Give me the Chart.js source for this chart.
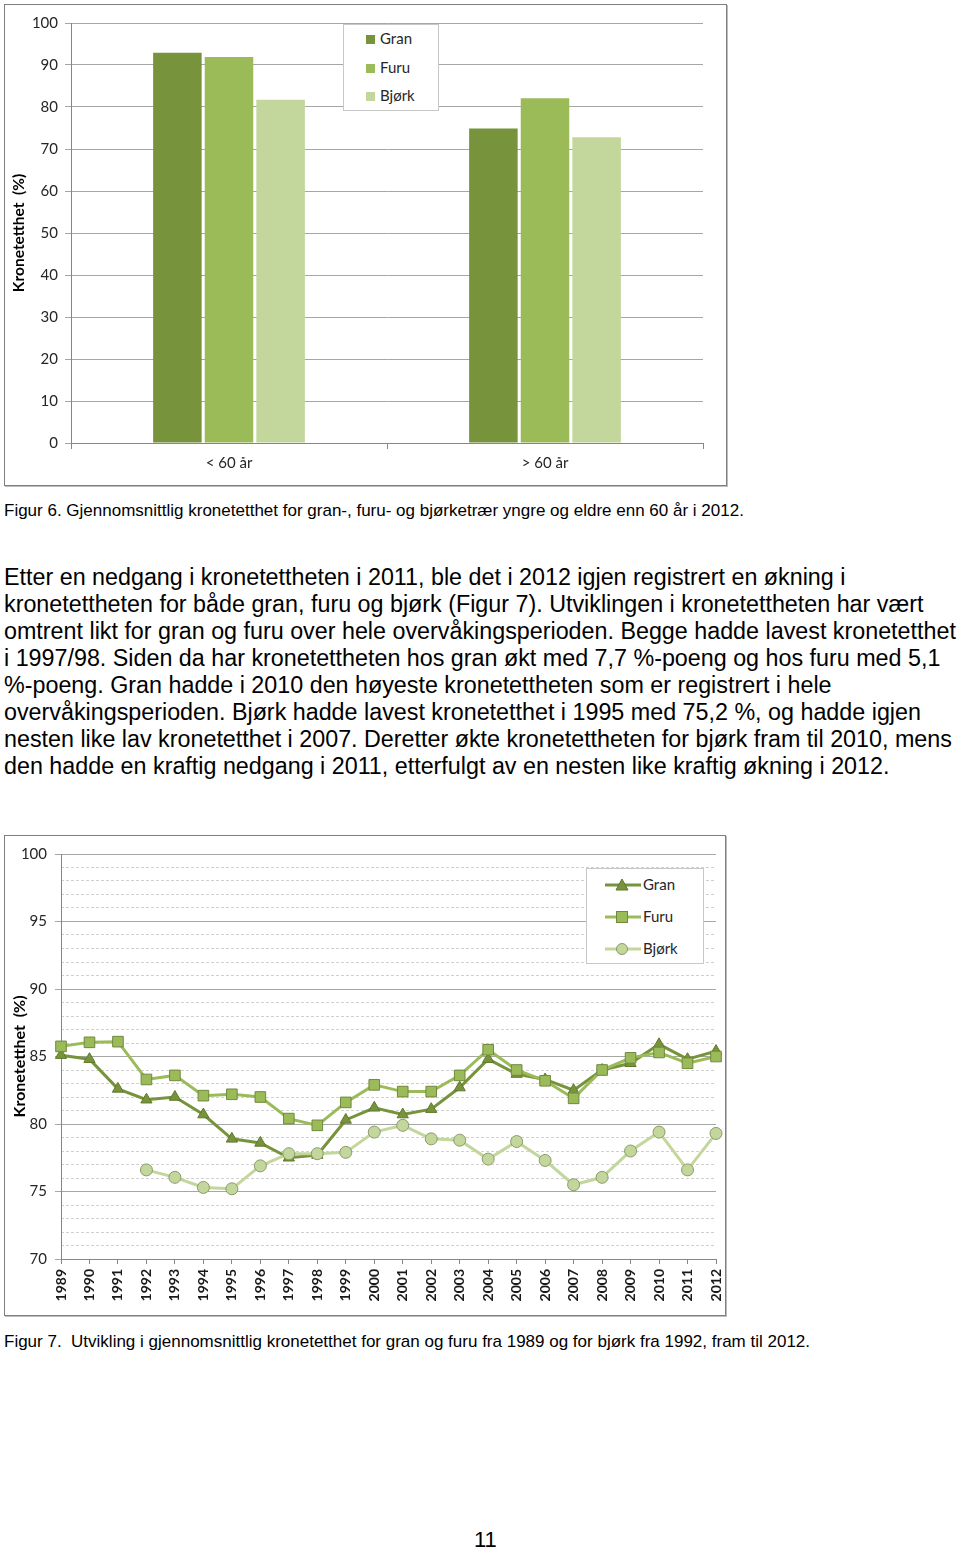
<!DOCTYPE html>
<html>
<head>
<meta charset="utf-8">
<script src="https://cdn.jsdelivr.net/npm/chart.js@4.4.1/dist/chart.umd.min.js"></script>
<style>
  html,body{margin:0;padding:0;background:#fff;}
  body{width:960px;height:1552px;position:relative;overflow:hidden;font-family:"Liberation Sans",Arial,sans-serif;color:#000;}
  .frame{position:absolute;border:1px solid #7f7f7f;box-shadow:1px 1px 0 #bdbdbd;background:#fff;}
  canvas{position:absolute;}
  .legend{position:absolute;border:1px solid #c8c8c8;background:#fff;font-family:Lato,"Open Sans",sans-serif;font-size:15px;color:#262626;}
  .li{position:absolute;left:0;height:20px;line-height:20px;white-space:nowrap;}
  .txt{position:absolute;left:4px;white-space:nowrap;}
  .para{font-size:23.3px;}
  .cap{font-size:17px;}
</style>
</head>
<body>
<script>
// ---------- DATA ----------
const barCategories = ["< 60 år", "> 60 år"];
const barGran = [92.9, 74.9];
const barFuru = [91.9, 82.1];
const barBjork = [81.7, 72.8];

const years = ["1989","1990","1991","1992","1993","1994","1995","1996","1997","1998","1999","2000",
               "2001","2002","2003","2004","2005","2006","2007","2008","2009","2010","2011","2012"];
const lineGran = [85.1, 84.8, 82.6, 81.8, 82.0, 80.7, 78.9, 78.6, 77.5, 77.7, 80.3, 81.2,
                  80.7, 81.1, 82.7, 84.8, 83.7, 83.3, 82.5, 84.0, 84.5, 85.9, 84.8, 85.4];
const lineFuru = [85.75, 86.05, 86.1, 83.3, 83.6, 82.1, 82.2, 82.0, 80.4, 79.9, 81.6, 82.9,
                  82.4, 82.4, 83.6, 85.5, 84.0, 83.2, 81.9, 84.0, 84.9, 85.3, 84.5, 85.0];
const lineBjork = [null, null, null, 76.6, 76.05, 75.3, 75.2, 76.9, 77.8, 77.8, 77.9, 79.4,
                   79.9, 78.9, 78.8, 77.4, 78.7, 77.3, 75.5, 76.05, 78.0, 79.4, 76.6, 79.3];

const barTicks = [0, 10, 20, 30, 40, 50, 60, 70, 80, 90, 100];
const lineTickLabels = [70, 75, 80, 85, 90, 95, 100];

const seriesNames = ["Gran", "Furu", "Bjørk"];
const COL = {gran:"#77933C", furu:"#9BBB59", bjork:"#C3D69B"};
</script>

<div class="frame" style="left:4px;top:4px;width:721px;height:480px;"></div>
<canvas id="c1" width="721" height="480" style="left:5px;top:5px;width:721px;height:480px;"></canvas>
<div class="legend" id="lg1" style="left:343px;top:24px;width:94px;height:85px;"></div>

<div class="txt cap" style="top:501px;">Figur 6. Gjennomsnittlig kronetetthet for gran-, furu- og bjørketrær yngre og eldre enn 60 år i 2012.</div>

<div class="txt para" style="top:564px;">Etter en nedgang i kronetettheten i 2011, ble det i 2012 igjen registrert en økning i</div>
<div class="txt para" style="top:591px;">kronetettheten for både gran, furu og bjørk (Figur 7). Utviklingen i kronetettheten har vært</div>
<div class="txt para" style="top:618px;">omtrent likt for gran og furu over hele overvåkingsperioden. Begge hadde lavest kronetetthet</div>
<div class="txt para" style="top:645px;">i 1997/98. Siden da har kronetettheten hos gran økt med 7,7 %-poeng og hos furu med 5,1</div>
<div class="txt para" style="top:672px;">%-poeng. Gran hadde i 2010 den høyeste kronetettheten som er registrert i hele</div>
<div class="txt para" style="top:699px;">overvåkingsperioden. Bjørk hadde lavest kronetetthet i 1995 med 75,2 %, og hadde igjen</div>
<div class="txt para" style="top:726px;">nesten like lav kronetetthet i 2007. Deretter økte kronetettheten for bjørk fram til 2010, mens</div>
<div class="txt para" style="top:753px;">den hadde en kraftig nedgang i 2011, etterfulgt av en nesten like kraftig økning i 2012.</div>

<div class="frame" style="left:4px;top:835px;width:720px;height:479px;"></div>
<canvas id="c2" width="720" height="479" style="left:5px;top:836px;width:720px;height:479px;"></canvas>
<div class="legend" id="lg2" style="left:586px;top:868px;width:116px;height:94px;"></div>

<div class="txt cap" style="top:1332px;">Figur 7.&nbsp; Utvikling i gjennomsnittlig kronetetthet for gran og furu fra 1989 og for bjørk fra 1992, fram til 2012.</div>

<div class="txt" style="left:474px;top:1527px;font-size:22px;">11</div>

<script>
const FONT = "Lato, 'Open Sans', sans-serif";

// legend 1 (bar)
(function(){
  const lg = document.getElementById('lg1');
  const cols = [COL.gran, COL.furu, COL.bjork];
  const ys = [3, 32, 60];
  seriesNames.forEach((n,i)=>{
    const d = document.createElement('div');
    d.className='li';
    d.style.top = ys[i]+'px';
    d.style.left = '22px';
    d.innerHTML = '<span style="display:inline-block;width:9px;height:9px;background:'+cols[i]+';margin-right:5px;vertical-align:0px;"></span>'+n;
    lg.appendChild(d);
  });
})();

// legend 2 (line)
(function(){
  const lg = document.getElementById('lg2');
  const ys = [5, 37, 69];
  const svgs = [
    '<svg width="38" height="14" style="vertical-align:-2px"><line x1="0" y1="7" x2="36" y2="7" stroke="'+COL.gran+'" stroke-width="3"/><polygon points="17,1 23,12 11,12" fill="'+COL.gran+'" stroke="#5f7a2c" stroke-width="1"/></svg>',
    '<svg width="38" height="14" style="vertical-align:-2px"><line x1="0" y1="7" x2="36" y2="7" stroke="'+COL.furu+'" stroke-width="3"/><rect x="11.5" y="1.5" width="11" height="11" fill="'+COL.furu+'" stroke="#71893F" stroke-width="1"/></svg>',
    '<svg width="38" height="14" style="vertical-align:-2px"><line x1="0" y1="7" x2="36" y2="7" stroke="'+COL.bjork+'" stroke-width="3"/><circle cx="17" cy="7" r="5.5" fill="'+COL.bjork+'" stroke="#8b9a6c" stroke-width="1"/></svg>'
  ];
  seriesNames.forEach((n,i)=>{
    const d = document.createElement('div');
    d.className='li';
    d.style.top = ys[i]+'px';
    d.style.left = '18px';
    d.innerHTML = svgs[i]+n;
    lg.appendChild(d);
  });
})();

Chart.defaults.font.family = FONT;
Chart.defaults.animation = false;

// ---------- Chart 1: bars ----------
new Chart(document.getElementById('c1'), {
  type: 'bar',
  data: {
    labels: barCategories,
    datasets: [
      {label: seriesNames[0], data: barGran, backgroundColor: COL.gran},
      {label: seriesNames[1], data: barFuru, backgroundColor: COL.furu},
      {label: seriesNames[2], data: barBjork, backgroundColor: COL.bjork}
    ]
  },
  options: {
    responsive: false,
    devicePixelRatio: 1,
    layout: {padding: {left: 0, right: 23, top: 18, bottom: 0}},
    categoryPercentage: 0.49,
    barPercentage: 0.94,
    plugins: {legend: {display: false}, tooltip: {enabled: false}},
    scales: {
      x: {
        grid: {display: true, drawOnChartArea: false, drawTicks: true, tickLength: 6, color: '#868686', offset: true},
        border: {display: true, color: '#868686'},
        ticks: {color: '#262626', font: {size: 15}, padding: 5},
        afterFit: s => { s.height = 42; }
      },
      y: {
        min: 0, max: 100,
        afterBuildTicks: s => { s.ticks = barTicks.map(v => ({value: v})); },
        grid: {color: '#a6a6a6', tickLength: 6, drawTicks: true},
        border: {display: true, color: '#868686'},
        ticks: {color: '#262626', font: {size: 15}, padding: 7},
        title: {display: true, text: 'Kronetetthet  (%)', color: '#000', font: {size: 15.5, weight: 'bold'}, padding: {top: 5, bottom: 0}},
        afterFit: s => { s.width = 66; }
      }
    }
  }
});

// ---------- Chart 2: lines ----------
new Chart(document.getElementById('c2'), {
  type: 'line',
  data: {
    labels: years,
    datasets: [
      {label: seriesNames[0], data: lineGran, borderColor: COL.gran, backgroundColor: COL.gran,
       pointStyle: 'triangle', pointRadius: 6.5, pointBorderColor: '#5f7a2c', pointBorderWidth: 1,
       borderWidth: 3, order: 3, tension: 0},
      {label: seriesNames[1], data: lineFuru, borderColor: COL.furu, backgroundColor: COL.furu,
       pointStyle: 'rect', pointRadius: 7.5, pointBorderColor: '#71893F', pointBorderWidth: 1,
       borderWidth: 3, order: 2, tension: 0},
      {label: seriesNames[2], data: lineBjork, borderColor: COL.bjork, backgroundColor: COL.bjork,
       pointStyle: 'circle', pointRadius: 6, pointBorderColor: '#8b9a6c', pointBorderWidth: 1,
       borderWidth: 3, order: 1, tension: 0}
    ]
  },
  options: {
    responsive: false,
    devicePixelRatio: 1,
    layout: {padding: {left: 0, right: 9, top: 18, bottom: 0}},
    plugins: {legend: {display: false}, tooltip: {enabled: false}},
    scales: {
      x: {
        offset: false,
        grid: {display: true, drawOnChartArea: false, drawTicks: true, tickLength: 5, color: '#868686'},
        border: {display: true, color: '#868686'},
        ticks: {color: '#1a1a1a', font: {size: 14, weight: 'bold'}, minRotation: 90, maxRotation: 90, padding: 5, autoSkip: false},
        afterFit: s => { s.height = 56; s.paddingRight = 0; s.paddingLeft = 0; }
      },
      y2: {
        position: 'left',
        min: 70, max: 100,
        ticks: {display: false, stepSize: 1},
        grid: {drawTicks: false, color: ctx => (ctx.tick && ctx.tick.value % 5 === 0) ? 'rgba(0,0,0,0)' : '#d0d0d0'},
        border: {display: false, dash: [3, 2]},
        afterFit: s => { s.width = 0; }
      },
      y: {
        position: 'left',
        min: 70, max: 100,
        afterBuildTicks: s => { s.ticks = lineTickLabels.map(v => ({value: v})); },
        grid: {color: '#a6a6a6', tickLength: 6, drawTicks: true},
        border: {display: true, color: '#868686'},
        ticks: {color: '#262626', font: {size: 15}, padding: 8},
        title: {display: true, text: 'Kronetetthet  (%)', color: '#000', font: {size: 16, weight: 'bold'}, padding: {top: 5, bottom: 0}},
        afterFit: s => { s.width = 56; }
      }
    }
  }
});
</script>
</body>
</html>
